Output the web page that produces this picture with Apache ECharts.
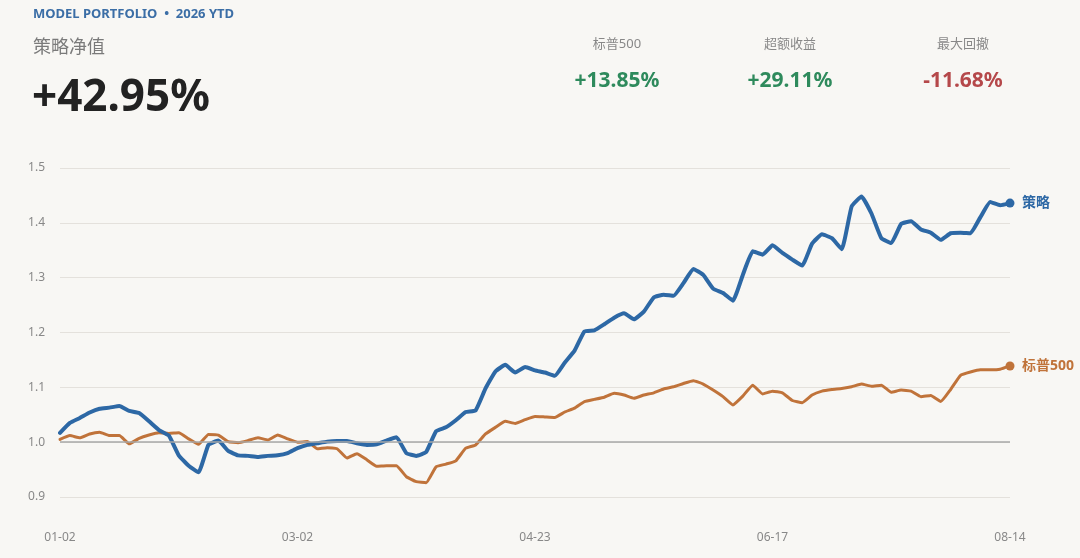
<!DOCTYPE html>
<html>
<head>
<meta charset="utf-8">
<script src="https://cdn.jsdelivr.net/npm/echarts@6/dist/echarts.min.js"></script>
<style>
  html, body { margin: 0; padding: 0; background: #f8f7f4; }
  #main { width: 1080px; height: 558px; }
</style>
</head>
<body>
<div id="main"></div>
<script>
// x axis tick labels, one every 24 points
const tickLabels = ['01-02', '03-02', '04-23', '06-17', '08-14']
const tickStep = 24

// strategy net value
const strategy = [
  1.017, 1.035, 1.044, 1.054, 1.061, 1.063, 1.066, 1.057, 1.053, 1.038,
  1.022, 1.012, 0.976, 0.957, 0.945, 0.995, 1.003, 0.984, 0.976, 0.975,
  0.973, 0.975, 0.976, 0.980, 0.989, 0.995, 0.998, 1.001, 1.002, 1.002,
  0.998, 0.995, 0.996, 1.003, 1.009, 0.980, 0.975, 0.982, 1.020, 1.027,
  1.040, 1.055, 1.058, 1.098, 1.129, 1.141, 1.127, 1.137, 1.131, 1.127,
  1.121, 1.145, 1.167, 1.202, 1.204, 1.215, 1.227, 1.235, 1.224, 1.238,
  1.264, 1.269, 1.267, 1.290, 1.316, 1.305, 1.280, 1.272, 1.258, 1.305,
  1.348, 1.342, 1.359, 1.345, 1.333, 1.322, 1.362, 1.379, 1.372, 1.352,
  1.430, 1.448, 1.417, 1.372, 1.363, 1.398, 1.403, 1.388, 1.382, 1.369,
  1.381, 1.382, 1.381, 1.410, 1.438, 1.432, 1.436
]

// S&P 500 net value
const sp500 = [
  1.005, 1.012, 1.008, 1.015, 1.018, 1.012, 1.012, 0.997, 1.007, 1.013,
  1.017, 1.016, 1.017, 1.006, 0.996, 1.014, 1.013, 1.001, 0.999, 1.003,
  1.008, 1.004, 1.013, 1.006, 1.000, 1.001, 0.988, 0.990, 0.988, 0.971,
  0.979, 0.968, 0.956, 0.957, 0.957, 0.937, 0.928, 0.926, 0.955, 0.960,
  0.966, 0.989, 0.995, 1.015, 1.027, 1.038, 1.034, 1.041, 1.047, 1.046,
  1.045, 1.055, 1.062, 1.074, 1.078, 1.082, 1.089, 1.086, 1.080, 1.086,
  1.090, 1.097, 1.101, 1.107, 1.112, 1.106, 1.095, 1.083, 1.068, 1.084,
  1.104, 1.088, 1.093, 1.090, 1.076, 1.072, 1.086, 1.093, 1.096, 1.098,
  1.101, 1.106, 1.102, 1.104, 1.091, 1.095, 1.093, 1.083, 1.085, 1.074,
  1.096, 1.122, 1.128, 1.132, 1.132, 1.133, 1.139
]

// header stats
const stats = [
  { name: '标普500', value: '+13.85%', color: '#2e8a5c' },
  { name: '超额收益', value: '+29.11%', color: '#2e8a5c' },
  { name: '最大回撤', value: '-11.68%', color: '#b5484a' }
]

const BLUE = '#2d68a5'
const ORANGE = '#c0733a'
const FONT = '"Noto Sans", "Noto Sans CJK SC", sans-serif'

const chart = echarts.init(document.getElementById('main'))

let graphics = [
  { type: 'text', left: 33, top: 8, style: { text: 'MODEL PORTFOLIO  •  2026 YTD', fill: '#3b6ea6', font: 'bold 13px ' + FONT } },
  { type: 'text', left: 33, top: 39, style: { text: '策略净值', fill: '#7a7a7a', font: '18px ' + FONT } },
  { type: 'text', left: 32, top: 76, style: { text: '+42.95%', fill: '#222222', font: 'bold 44px ' + FONT } }
]
stats.forEach((s, i) => {
  let cx = 617 + i * 173
  graphics.push({ type: 'text', x: cx, y: 44, style: { text: s.name, fill: '#888888', font: '13px ' + FONT, align: 'center', verticalAlign: 'middle' } })
  graphics.push({ type: 'text', x: cx, y: 81, style: { text: s.value, fill: s.color, font: 'bold 21px ' + FONT, align: 'center', verticalAlign: 'middle' } })
})

const last = strategy.length - 1
const endSymbol = (v, p) => p.dataIndex === last ? 9 : 0

function lineSeries(name, data, color, width) {
  return {
    name: name,
    type: 'line',
    data: data,
    smooth: 0.12,
    symbol: 'circle',
    showSymbol: true,
    showAllSymbol: true,
    symbolSize: endSymbol,
    itemStyle: { color: color },
    lineStyle: { color: color, width: width, cap: 'round', join: 'round' },
    endLabel: {
      show: true,
      formatter: name,
      color: color,
      fontWeight: 'bold',
      fontSize: 14,
      fontFamily: FONT,
      distance: 12
    },
    emphasis: { disabled: true },
    z: name === '策略' ? 3 : 2
  }
}

let blueSeries = lineSeries('策略', strategy, BLUE, 4)
blueSeries.markLine = {
  silent: true,
  symbol: 'none',
  label: { show: false },
  lineStyle: { color: '#a8a8a8', width: 1.5, type: 'solid' },
  data: [{ yAxis: 1.0 }]
}

const option = {
  backgroundColor: '#f8f7f4',
  animation: false,
  textStyle: { fontFamily: FONT },
  graphic: graphics,
  grid: { left: 60, right: 70, top: 168, bottom: 61 },
  xAxis: {
    type: 'category',
    data: strategy.map((v, i) => i),
    boundaryGap: false,
    axisLine: { show: false },
    axisTick: { show: false },
    axisLabel: {
      interval: tickStep - 1,
      margin: 35,
      color: '#888888',
      fontSize: 12,
      formatter: (v, i) => tickLabels[i / tickStep]
    },
    splitLine: { show: false }
  },
  yAxis: {
    type: 'value',
    min: 0.9,
    max: 1.5,
    interval: 0.1,
    axisLine: { show: false },
    axisTick: { show: false },
    axisLabel: {
      margin: 15,
      color: '#888888',
      fontSize: 12,
      formatter: v => v.toFixed(1)
    },
    splitLine: { lineStyle: { color: '#e4e1dc', width: 1 } }
  },
  series: [
    lineSeries('标普500', sp500, ORANGE, 3),
    blueSeries
  ]
}

chart.setOption(option)
</script>
</body>
</html>
